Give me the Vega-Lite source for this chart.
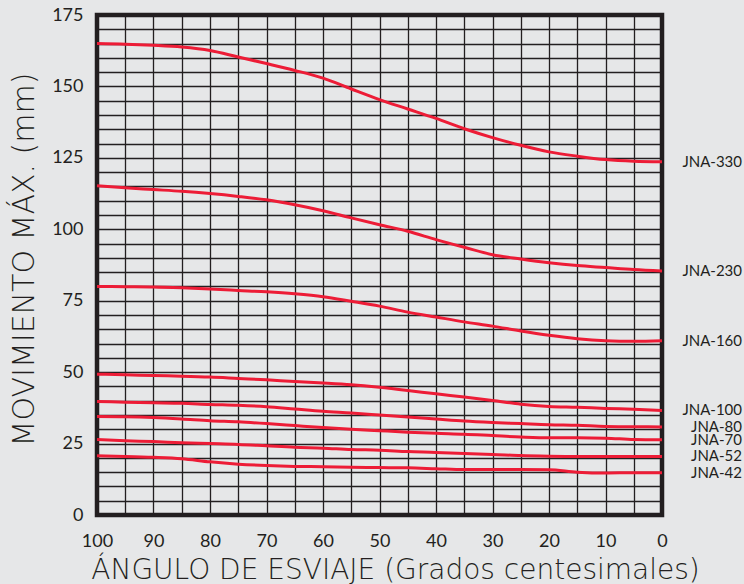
{
  "$schema": "https://vega.github.io/schema/vega-lite/v6.json",
  "width": 565,
  "height": 500,
  "autosize": {"type": "none"},
  "padding": {"left": 97, "top": 15, "right": 82, "bottom": 69},
  "background": "#e6e7e8",
  "config": {
    "view": {"stroke": "#231f20", "strokeWidth": 4.5, "fill": "#e6e7e8"},
    "axis": {"labelFont": "Lato", "titleFont": "DejaVu Sans", "titleFontWeight": 200, "labelColor": "#231f20", "titleColor": "#231f20", "domain": false, "ticks": false, "gridColor": "#231f20", "gridWidth": 1.3, "gridOpacity": 1, "labelOverlap": false, "labelFlush": false}
  },
  "data": {"values": [
    {"s":"JNA-330","a":100,"v":165},{"s":"JNA-330","a":95,"v":164.8},{"s":"JNA-330","a":90,"v":164.4},{"s":"JNA-330","a":85,"v":163.8},{"s":"JNA-330","a":80,"v":162.6},{"s":"JNA-330","a":75,"v":160.3},{"s":"JNA-330","a":70,"v":158},{"s":"JNA-330","a":65,"v":155.6},{"s":"JNA-330","a":60,"v":152.9},{"s":"JNA-330","a":55,"v":149.1},{"s":"JNA-330","a":50,"v":145.4},{"s":"JNA-330","a":45,"v":142.1},{"s":"JNA-330","a":40,"v":138.8},{"s":"JNA-330","a":35,"v":135.2},{"s":"JNA-330","a":30,"v":132.1},{"s":"JNA-330","a":25,"v":129.4},{"s":"JNA-330","a":20,"v":127.1},{"s":"JNA-330","a":15,"v":125.6},{"s":"JNA-330","a":10,"v":124.4},{"s":"JNA-330","a":5,"v":123.8},{"s":"JNA-330","a":0,"v":123.6},
    {"s":"JNA-230","a":100,"v":115.2},{"s":"JNA-230","a":95,"v":114.5},{"s":"JNA-230","a":90,"v":113.9},{"s":"JNA-230","a":85,"v":113.3},{"s":"JNA-230","a":80,"v":112.5},{"s":"JNA-230","a":75,"v":111.5},{"s":"JNA-230","a":70,"v":110.3},{"s":"JNA-230","a":65,"v":108.6},{"s":"JNA-230","a":60,"v":106.5},{"s":"JNA-230","a":55,"v":104},{"s":"JNA-230","a":50,"v":101.6},{"s":"JNA-230","a":45,"v":99.3},{"s":"JNA-230","a":40,"v":96.4},{"s":"JNA-230","a":35,"v":93.7},{"s":"JNA-230","a":30,"v":91.1},{"s":"JNA-230","a":25,"v":89.6},{"s":"JNA-230","a":20,"v":88.3},{"s":"JNA-230","a":15,"v":87.3},{"s":"JNA-230","a":10,"v":86.6},{"s":"JNA-230","a":5,"v":85.9},{"s":"JNA-230","a":0,"v":85.4},
    {"s":"JNA-160","a":100,"v":80},{"s":"JNA-160","a":95,"v":79.9},{"s":"JNA-160","a":90,"v":79.8},{"s":"JNA-160","a":85,"v":79.5},{"s":"JNA-160","a":80,"v":79.1},{"s":"JNA-160","a":75,"v":78.6},{"s":"JNA-160","a":70,"v":78.1},{"s":"JNA-160","a":65,"v":77.4},{"s":"JNA-160","a":60,"v":76.4},{"s":"JNA-160","a":55,"v":74.8},{"s":"JNA-160","a":50,"v":73.1},{"s":"JNA-160","a":45,"v":71},{"s":"JNA-160","a":40,"v":69.3},{"s":"JNA-160","a":35,"v":67.6},{"s":"JNA-160","a":30,"v":66.1},{"s":"JNA-160","a":25,"v":64.4},{"s":"JNA-160","a":20,"v":62.9},{"s":"JNA-160","a":15,"v":61.7},{"s":"JNA-160","a":10,"v":61},{"s":"JNA-160","a":5,"v":60.8},{"s":"JNA-160","a":0,"v":61},
    {"s":"JNA-100","a":100,"v":49.3},{"s":"JNA-100","a":95,"v":49.1},{"s":"JNA-100","a":90,"v":48.8},{"s":"JNA-100","a":85,"v":48.6},{"s":"JNA-100","a":80,"v":48.3},{"s":"JNA-100","a":75,"v":47.8},{"s":"JNA-100","a":70,"v":47.3},{"s":"JNA-100","a":65,"v":46.7},{"s":"JNA-100","a":60,"v":46.2},{"s":"JNA-100","a":55,"v":45.6},{"s":"JNA-100","a":50,"v":44.7},{"s":"JNA-100","a":45,"v":43.6},{"s":"JNA-100","a":40,"v":42.4},{"s":"JNA-100","a":35,"v":41.3},{"s":"JNA-100","a":30,"v":40.1},{"s":"JNA-100","a":25,"v":38.8},{"s":"JNA-100","a":20,"v":38},{"s":"JNA-100","a":15,"v":37.7},{"s":"JNA-100","a":10,"v":37.3},{"s":"JNA-100","a":5,"v":37},{"s":"JNA-100","a":0,"v":36.6},
    {"s":"JNA-80","a":100,"v":39.7},{"s":"JNA-80","a":95,"v":39.5},{"s":"JNA-80","a":90,"v":39.3},{"s":"JNA-80","a":85,"v":39.1},{"s":"JNA-80","a":80,"v":38.7},{"s":"JNA-80","a":75,"v":38.4},{"s":"JNA-80","a":70,"v":37.9},{"s":"JNA-80","a":65,"v":37.1},{"s":"JNA-80","a":60,"v":36.3},{"s":"JNA-80","a":55,"v":35.7},{"s":"JNA-80","a":50,"v":35},{"s":"JNA-80","a":45,"v":34.3},{"s":"JNA-80","a":40,"v":33.6},{"s":"JNA-80","a":35,"v":32.9},{"s":"JNA-80","a":30,"v":32.4},{"s":"JNA-80","a":25,"v":32},{"s":"JNA-80","a":20,"v":31.6},{"s":"JNA-80","a":15,"v":31.4},{"s":"JNA-80","a":10,"v":31},{"s":"JNA-80","a":5,"v":30.9},{"s":"JNA-80","a":0,"v":30.8},
    {"s":"JNA-70","a":100,"v":34.5},{"s":"JNA-70","a":95,"v":34.4},{"s":"JNA-70","a":90,"v":34.1},{"s":"JNA-70","a":85,"v":33.6},{"s":"JNA-70","a":80,"v":33},{"s":"JNA-70","a":75,"v":32.6},{"s":"JNA-70","a":70,"v":32},{"s":"JNA-70","a":65,"v":31.3},{"s":"JNA-70","a":60,"v":30.6},{"s":"JNA-70","a":55,"v":30},{"s":"JNA-70","a":50,"v":29.5},{"s":"JNA-70","a":45,"v":29},{"s":"JNA-70","a":40,"v":28.6},{"s":"JNA-70","a":35,"v":28.3},{"s":"JNA-70","a":30,"v":27.8},{"s":"JNA-70","a":25,"v":27.3},{"s":"JNA-70","a":20,"v":27},{"s":"JNA-70","a":15,"v":27},{"s":"JNA-70","a":10,"v":26.9},{"s":"JNA-70","a":5,"v":26.4},{"s":"JNA-70","a":0,"v":26.3},
    {"s":"JNA-52","a":100,"v":26.4},{"s":"JNA-52","a":95,"v":26},{"s":"JNA-52","a":90,"v":25.7},{"s":"JNA-52","a":85,"v":25.3},{"s":"JNA-52","a":80,"v":25},{"s":"JNA-52","a":75,"v":24.7},{"s":"JNA-52","a":70,"v":24.2},{"s":"JNA-52","a":65,"v":23.7},{"s":"JNA-52","a":60,"v":23.4},{"s":"JNA-52","a":55,"v":22.9},{"s":"JNA-52","a":50,"v":22.7},{"s":"JNA-52","a":45,"v":22.2},{"s":"JNA-52","a":40,"v":21.9},{"s":"JNA-52","a":35,"v":21.5},{"s":"JNA-52","a":30,"v":21.2},{"s":"JNA-52","a":25,"v":20.8},{"s":"JNA-52","a":20,"v":20.6},{"s":"JNA-52","a":15,"v":20.5},{"s":"JNA-52","a":10,"v":20.5},{"s":"JNA-52","a":5,"v":20.5},{"s":"JNA-52","a":0,"v":20.5},
    {"s":"JNA-42","a":100,"v":20.7},{"s":"JNA-42","a":95,"v":20.5},{"s":"JNA-42","a":90,"v":20.2},{"s":"JNA-42","a":85,"v":19.7},{"s":"JNA-42","a":80,"v":18.6},{"s":"JNA-42","a":75,"v":17.8},{"s":"JNA-42","a":70,"v":17.3},{"s":"JNA-42","a":65,"v":17},{"s":"JNA-42","a":60,"v":16.9},{"s":"JNA-42","a":55,"v":16.7},{"s":"JNA-42","a":50,"v":16.6},{"s":"JNA-42","a":45,"v":16.5},{"s":"JNA-42","a":40,"v":16.2},{"s":"JNA-42","a":35,"v":15.9},{"s":"JNA-42","a":30,"v":15.9},{"s":"JNA-42","a":25,"v":15.9},{"s":"JNA-42","a":20,"v":15.8},{"s":"JNA-42","a":15,"v":15},{"s":"JNA-42","a":10,"v":14.7},{"s":"JNA-42","a":5,"v":14.8},{"s":"JNA-42","a":0,"v":14.8}
  ]},
  "encoding": {
    "x": {"field": "a", "type": "quantitative",
      "scale": {"domain": [0, 100], "reverse": true, "nice": false},
      "axis": {"values": [0,5,10,15,20,25,30,35,40,45,50,55,60,65,70,75,80,85,90,95,100],
        "labelExpr": "datum.value % 10 === 0 ? datum.label : ''",
        "labelFontSize": 18, "labelPadding": 17, "labelBaseline": "top",
        "title": "ÁNGULO DE ESVIAJE (Grados centesimales)", "titleFontSize": 28,
        "titleX": 298, "titleY": 63, "titleAlign": "center", "titleBaseline": "alphabetic"}},
    "y": {"field": "v", "type": "quantitative",
      "scale": {"domain": [0, 175], "nice": false},
      "axis": {"values": [0,5,10,15,20,25,30,35,40,45,50,55,60,65,70,75,80,85,90,95,100,105,110,115,120,125,130,135,140,145,150,155,160,165,170,175],
        "labelExpr": "datum.value % 25 === 0 ? datum.label : ''",
        "labelFontSize": 18, "labelPadding": 14, "labelBaseline": "middle",
        "title": "MOVIMIENTO MÁX. (mm)", "titleFontSize": 30,
        "titleX": -64, "titleY": 244, "titleAlign": "center", "titleBaseline": "alphabetic", "titleAngle": 270}}
  },
  "layer": [
    {"mark": {"type": "line", "color": "#ed1c36", "strokeWidth": 3, "interpolate": "monotone"},
     "encoding": {"detail": {"field": "s"}}},
    {"transform": [{"filter": "datum.a === 0"}],
     "mark": {"type": "text", "align": "right", "baseline": "middle", "dx": 80, "font": "Lato", "fontSize": 15, "color": "#231f20"},
     "encoding": {"text": {"field": "s"}}}
  ]
}
